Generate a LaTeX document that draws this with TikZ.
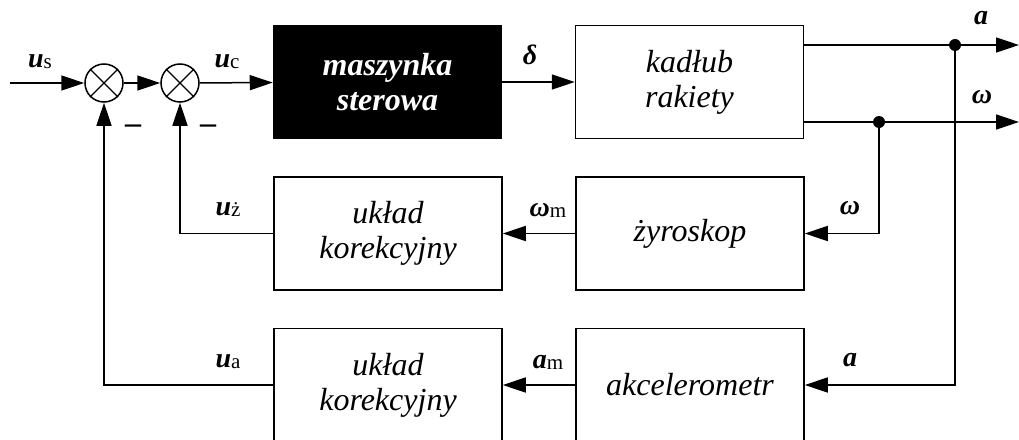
\documentclass[tikz,border=0pt]{standalone}
\usepackage{fontspec}
\setmainfont{LiberationSerif}[Extension=.ttf, UprightFont=*-Regular, ItalicFont=*-Italic, BoldFont=*-Bold, BoldItalicFont=*-BoldItalic]
\usetikzlibrary{arrows.meta}
\newcommand{\lab}[2]{\textbf{\textit{#1}}{\normalfont\fontsize{21}{24}\selectfont\raisebox{-1pt}{#2}}}
\begin{document}
\begin{tikzpicture}[x=1pt,y=-1pt, line width=1.5pt,
 blk/.style={draw, minimum width=228pt, minimum height=113pt, inner sep=0pt, align=center, font=\fontsize{32}{35}\selectfont\itshape},
 sumnode/.style={draw, circle, minimum size=38pt, inner sep=0pt},
 arr/.style={-{Triangle[length=23pt,width=15pt]}},
 lbl/.style={font=\fontsize{28}{30}\selectfont\bfseries\itshape, inner sep=0pt},
 dot/.style={circle, fill, inner sep=0pt, minimum size=12pt}]
\useasboundingbox (0,0) rectangle (1019,439);
% summing junctions
\node[sumnode] (s1) at (104,83) {};
\node[sumnode] (s2) at (180,83) {};
\foreach \s in {s1,s2}{
  \draw[line width=1.3pt] (\s.45) -- (\s.225) (\s.135) -- (\s.-45);
}
% blocks
\node[blk, fill=black, text=white, font=\fontsize{32}{35}\selectfont\bfseries\itshape] (ms) at (387.5,82) {maszynka\\sterowa};
\node[blk] (kad) at (689.5,82) {kadłub\\rakiety};
\node[blk] (uk1) at (388,233.5) {układ\\korekcyjny};
\node[blk] (zy) at (690,233.5) {żyroskop};
\node[blk] (uk2) at (388,385) {układ\\korekcyjny};
\node[blk] (ak) at (690,385) {akcelerometr};
% coordinates
\coordinate (in) at (10,83);
\coordinate (aout) at (1019,45);
\coordinate (wout) at (1019,122);
% forward path
\draw[arr] (in) -- (s1);
\draw[arr] (s1) -- (s2);
\draw[arr] (s2) -- (ms);
\draw[arr] (ms) -- (kad);
\draw[arr] (kad.east |- aout) -- (aout);
\draw[arr] (kad.east |- wout) -- (wout);
\node[dot] (da) at (955,45) {};
\node[dot] (dw) at (879,122) {};
% feedback
\draw[arr] (dw.center) |- (zy.east);
\draw[arr] (da.center) |- (ak.east);
\draw[arr] (zy) -- (uk1);
\draw[arr] (ak) -- (uk2);
\draw[arr] (uk1.west) -| (s2.south);
\draw[arr] (uk2.west) -| (s1.south);
% labels
\node[lbl] at (40,62) {\lab{u}{s}};
\node[lbl] at (227,62) {\lab{u}{c}};
\node[lbl] at (530,55) {δ};
\node[lbl] at (981,18) {a};
\node[lbl] at (982,97) {ω};
\node[lbl] at (228,210) {\lab{u}{ż}};
\node[lbl] at (228,362) {\lab{u}{a}};
\node[lbl] at (548,210) {\lab{ω}{m}};
\node[lbl] at (548,362) {\lab{a}{m}};
\node[lbl] at (850,208) {ω};
\node[lbl] at (850,360) {a};
\node[lbl, font=\fontsize{32}{34}\selectfont\bfseries] (m1) at (133,129) {–};
\node[lbl, font=\fontsize{32}{34}\selectfont\bfseries] (m2) at (208,129) {–};
\end{tikzpicture}
\end{document}
